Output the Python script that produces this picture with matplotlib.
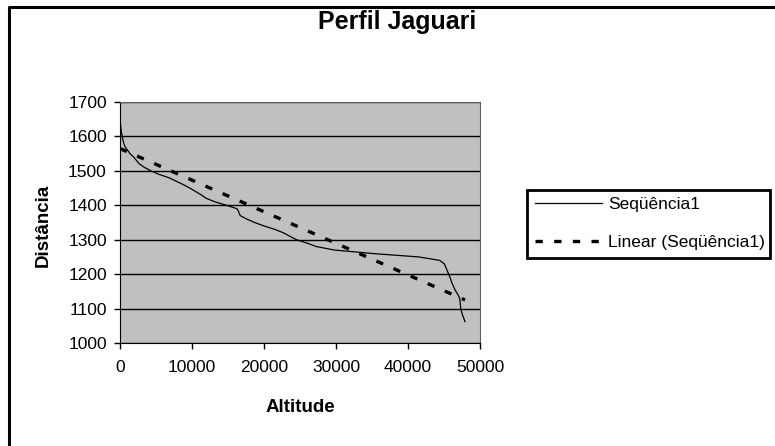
import numpy as np
import matplotlib
matplotlib.use("Agg")
import matplotlib.pyplot as plt
from matplotlib.lines import Line2D

plt.rcParams['font.family'] = ['Liberation Sans', 'DejaVu Sans']

# perfil, ponto a cada 10 m de cota
# (eixo x "Altitude", eixo y "Distância", como no original)
altitude = [0, 20, 50, 100, 150, 220, 300, 400, 520, 700,
            1050, 1400, 1900, 2300, 2700, 3400, 4300, 5400, 6800, 7800,
            8800, 9700, 10500, 11300, 12000, 13200, 14800, 16250, 16500, 16700,
            17600, 18700, 20000, 21500, 22700, 23600, 24500, 26000, 27300, 29800,
            35000, 41500, 44400, 45050, 45250, 45450, 45650, 45850, 46000, 46200,
            46400, 46650, 46950, 47180, 47230, 47280, 47320, 47450, 47600, 47780,
            47920]
distancia = [1660, 1650, 1640, 1630, 1620, 1610, 1600, 1590, 1580, 1570,
             1560, 1550, 1540, 1530, 1520, 1510, 1500, 1490, 1480, 1470,
             1460, 1450, 1440, 1430, 1420, 1410, 1400, 1390, 1380, 1370,
             1360, 1350, 1340, 1330, 1320, 1310, 1300, 1290, 1280, 1270,
             1260, 1250, 1240, 1230, 1220, 1210, 1200, 1190, 1180, 1170,
             1160, 1150, 1140, 1130, 1120, 1110, 1100, 1090, 1080, 1070,
             1062]

x_ticks = [0, 10000, 20000, 30000, 40000, 50000]
y_ticks = [1000, 1100, 1200, 1300, 1400, 1500, 1600, 1700]

W, H = 775, 446


def main():
    x = np.array(altitude)
    y = np.array(distancia)

    # linha de tendência linear (como no Excel)
    trend = np.poly1d(np.polyfit(x, y, 1))
    x_tr = np.array([x.min(), x.max()])

    fig = plt.figure(figsize=(W / 100, H / 100), dpi=100)
    ax = fig.add_axes([120 / W, 1 - 343 / H, 360 / W, 241 / H])
    ax.set_facecolor('#C0C0C0')

    ax.plot(x, y, color='black', lw=0.9, label='Seqüência1')
    ax.plot(x_tr, trend(x_tr), color='black', lw=2.4, dashes=(2.2, 3.4),
            label='Linear (Seqüência1)')

    ax.set_xlim(0, 50000)
    ax.set_ylim(1000, 1700)
    ax.set_xticks(x_ticks)
    ax.set_yticks(y_ticks)
    ax.tick_params(labelsize=12.5, length=4, width=1, colors='black', direction='out')
    ax.tick_params(axis='x', pad=8.5)
    ax.tick_params(axis='y', pad=5.5)
    ax.yaxis.grid(True, color='black', lw=1)
    ax.set_axisbelow(True)
    for s in ax.spines.values():
        s.set_color('#606060')
    ax.spines['left'].set_color('black')
    ax.spines['bottom'].set_color('black')

    fig.text(300 / W, 1 - 408 / H, 'Altitude', ha='center', va='center',
             fontsize=13.5, fontweight='bold')
    fig.text(43 / W, 1 - 225 / H, 'Distância', ha='center', va='center',
             rotation=90, fontsize=13.5, fontweight='bold')
    fig.text(397 / W, 1 - 22 / H, 'Perfil Jaguari', ha='center', va='center',
             fontsize=18, fontweight='bold')

    leg = fig.legend(loc='lower left',
                     bbox_to_anchor=(527 / W, 1 - 258 / H, 243 / W, 0.15),
                     mode='expand', fontsize=12.5, fancybox=False, framealpha=1,
                     edgecolor='black', handlelength=3.85, borderaxespad=0,
                     borderpad=0.45, labelspacing=1.3, handletextpad=0.35)
    leg.get_frame().set_linewidth(2)

    # borda do gráfico (só esquerda e topo aparecem no recorte)
    fig.add_artist(Line2D([8.5 / W, 8.5 / W, 1], [0, 1 - 6.5 / H, 1 - 6.5 / H],
                          transform=fig.transFigure, color='black', lw=2.2))

    fig.savefig('out.png', dpi=100)


if __name__ == "__main__":
    main()
